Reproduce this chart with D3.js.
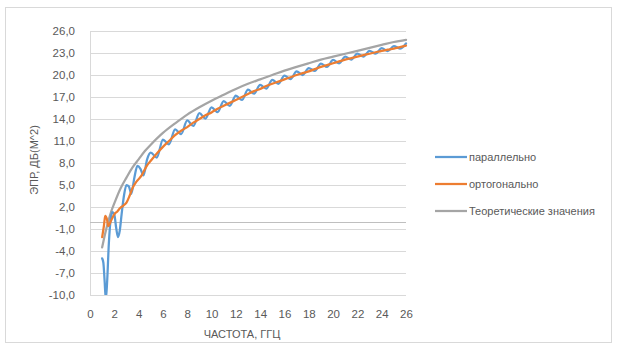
<!DOCTYPE html>
<html>
<head>
<meta charset="utf-8">
<script src="https://cdn.jsdelivr.net/npm/d3@7"></script>
<style>
  body { margin: 0; background: #fff; }
  svg { font-family: "Liberation Sans", "DejaVu Sans", sans-serif; }
</style>
</head>
<body>
<div id="chart"></div>
<script>
// values
var yTicks = [-10, -7, -4, -1, 2, 5, 8, 11, 14, 17, 20, 23, 26];
var xTicks = [0, 2, 4, 6, 8, 10, 12, 14, 16, 18, 20, 22, 24, 26];

var freqPar = [1.0, 1.1, 1.2, 1.3, 1.4, 1.55, 1.7, 1.85, 2.0, 2.15, 2.3, 2.45, 2.6, 2.8, 3.0, 3.2, 3.4, 3.65, 3.9, 4.15, 4.4, 4.7,
  5, 5.5, 6, 6.5, 7, 7.5, 8, 8.5, 9, 9.5, 10, 10.5, 11, 11.5, 12, 12.5, 13, 13.5, 14, 14.5, 15, 15.5, 16, 16.5,
  17, 17.5, 18, 18.5, 19, 19.5, 20, 20.5, 21, 21.5, 22, 22.5, 23, 23.5, 24, 24.5, 25, 25.5, 26];
var parallel = [-5.0, -5.6, -8.0, -10.6, -8.5, -3.0, 0.3, 1.3, 1.0, -0.8, -2.1, -1.2, 1.0, 3.6, 5.0, 4.8, 3.8, 6.0, 7.6, 7.2, 6.3, 8.5,
  9.4, 8.75, 11.2, 10.55, 12.6, 11.95, 13.8, 13.05, 14.8, 14.05, 15.6, 14.95, 16.45, 15.8, 17.2, 16.6, 18.0, 17.45, 18.65, 18.15, 19.35, 18.8, 19.9, 19.45,
  20.5, 20.0, 20.95, 20.55, 21.55, 21.1, 22.05, 21.6, 22.5, 22.1, 22.9, 22.5, 23.3, 22.9, 23.65, 23.25, 23.95, 23.6, 24.3];

var freqOrt = [1.0, 1.15, 1.25, 1.4, 1.5, 1.75, 2.0, 2.25, 2.5, 2.75, 3.0, 3.25, 3.5, 3.75, 4.0, 4.25, 4.5, 4.75,
  5, 5.5, 6, 6.5, 7, 7.5, 8, 8.5, 9, 9.5, 10, 10.5, 11, 11.5, 12, 12.5, 13, 13.5, 14, 14.5, 15, 15.5, 16, 16.5,
  17, 17.5, 18, 18.5, 19, 19.5, 20, 20.5, 21, 21.5, 22, 22.5, 23, 23.5, 24, 24.5, 25, 25.5, 26];
var orthogonal = [-2.1, -0.5, 0.8, 0.3, -0.6, 0.2, 1.0, 1.4, 1.9, 2.2, 2.6, 3.5, 4.6, 5.3, 5.8, 6.3, 7.1, 7.8,
  8.3, 9.3, 10.2, 11.0, 11.8, 12.4, 12.9, 13.5, 14.0, 14.5, 14.9, 15.4, 15.8, 16.2, 16.6, 17.0, 17.4, 17.8, 18.1, 18.5, 18.8, 19.1, 19.4, 19.7,
  20.0, 20.25, 20.5, 20.8, 21.1, 21.35, 21.6, 21.85, 22.1, 22.3, 22.5, 22.7, 22.9, 23.1, 23.3, 23.45, 23.6, 23.8, 24.0];

var freqTheo = [1, 1.25, 1.5, 1.75, 2, 2.5, 3, 3.5, 4, 4.5, 5, 6, 7, 8, 9, 10, 11, 12, 13, 14, 15, 16, 17, 18, 19, 20, 21, 22, 23, 24, 25, 26];
var theory = [-3.5, -1.6, 0.0, 1.4, 2.5, 4.5, 6.0, 7.4, 8.5, 9.6, 10.5, 12.1, 13.4, 14.6, 15.6, 16.5, 17.3, 18.1, 18.8, 19.4, 20.0, 20.6, 21.1, 21.6, 22.1, 22.5, 22.9, 23.3, 23.7, 24.1, 24.5, 24.8];

var seriesNames = ["параллельно", "ортогонально", "Теоретические значения"];
var seriesColors = ["#5b9bd5", "#ed7d31", "#a5a5a5"];

var W = 623, H = 359;
var plot = { left: 90, right: 406, top: 31, bottom: 295 };

var svg = d3.select("#chart").append("svg")
  .attr("width", W).attr("height", H)
  .attr("xmlns", "http://www.w3.org/2000/svg");

// chart border
svg.append("rect")
  .attr("x", 5.5).attr("y", 7.5)
  .attr("width", 606).attr("height", 335)
  .attr("fill", "#fff").attr("stroke", "#d9d9d9");

var x = d3.scaleLinear().domain([0, 26]).range([plot.left, plot.right]);
var y = d3.scaleLinear().domain([-10, 26]).range([plot.bottom, plot.top]);

var fmt = function(v) { return d3.format(".1f")(v).replace(".", ",").replace("−", "-"); };

// horizontal grid
svg.append("g").selectAll("line").data(yTicks).enter().append("line")
  .attr("x1", plot.left).attr("x2", plot.right)
  .attr("y1", function(d) { return Math.round(y(d)) + 0.5; })
  .attr("y2", function(d) { return Math.round(y(d)) + 0.5; })
  .attr("stroke", "#d9d9d9");

// axis lines (vertical axis, horizontal axis crosses at 0)
svg.append("line")
  .attr("x1", plot.left + 0.5).attr("x2", plot.left + 0.5)
  .attr("y1", plot.top).attr("y2", plot.bottom)
  .attr("stroke", "#d9d9d9");
svg.append("line")
  .attr("x1", plot.left).attr("x2", plot.right)
  .attr("y1", Math.round(y(0)) + 0.5).attr("y2", Math.round(y(0)) + 0.5)
  .attr("stroke", "#bfbfbf");

// tick labels through d3 axes
var yAxis = svg.append("g")
  .attr("transform", "translate(" + (plot.left - 12) + ",0)")
  .call(d3.axisLeft(y).tickValues(yTicks).tickFormat(fmt).tickSize(0));
var xAxis = svg.append("g")
  .attr("transform", "translate(0," + (plot.bottom + 12) + ")")
  .call(d3.axisBottom(x).tickValues(xTicks).tickSize(0));
[yAxis, xAxis].forEach(function(a) {
  a.select(".domain").remove();
  a.selectAll("text").attr("fill", "#595959").style("font-size", "11.5px")
    .style("font-family", "'Liberation Sans', sans-serif");
});
yAxis.selectAll("text").attr("dx", "0");

// axis titles
svg.append("text")
  .attr("x", 242).attr("y", 338)
  .attr("text-anchor", "middle").attr("fill", "#595959")
  .style("font-size", "11px").text("ЧАСТОТА, ГГЦ");
svg.append("text")
  .attr("transform", "translate(38,160) rotate(-90)")
  .attr("text-anchor", "middle").attr("fill", "#595959")
  .style("font-size", "11px").text("ЭПР, ДБ(М^2)");

// clip
svg.append("clipPath").attr("id", "plotclip").append("rect")
  .attr("x", plot.left).attr("y", plot.top - 5)
  .attr("width", plot.right - plot.left + 5).attr("height", plot.bottom - plot.top + 5);

var smooth = d3.line()
  .x(function(d) { return x(d[0]); })
  .y(function(d) { return y(d[1]); })
  .curve(d3.curveMonotoneX);
var theoLine = d3.line()
  .x(function(d) { return x(d[0]); })
  .y(function(d) { return y(d[1]); })
  .curve(d3.curveCatmullRom.alpha(0.5));

var series = [
  d3.zip(freqPar, parallel),
  d3.zip(freqOrt, orthogonal),
  d3.zip(freqTheo, theory)
];

var lines = svg.append("g").attr("clip-path", "url(#plotclip)");
// theory first, then parallel, orthogonal on top
[2, 0, 1].forEach(function(i) {
  lines.append("path")
    .attr("d", i == 2 ? theoLine(series[i]) : smooth(series[i]))
    .attr("fill", "none")
    .attr("stroke", seriesColors[i])
    .attr("stroke-width", 2.25)
    .attr("stroke-linejoin", "round")
    .attr("stroke-linecap", "round");
});

// legend
var legend = svg.append("g");
seriesNames.forEach(function(name, i) {
  var ly = 157 + i * 27;
  legend.append("line")
    .attr("x1", 435).attr("x2", 467)
    .attr("y1", ly).attr("y2", ly)
    .attr("stroke", seriesColors[i]).attr("stroke-width", 2.25);
  legend.append("text")
    .attr("x", 469).attr("y", ly + 4)
    .attr("fill", "#595959").style("font-size", "11px")
    .text(name);
});
</script>
</body>
</html>
